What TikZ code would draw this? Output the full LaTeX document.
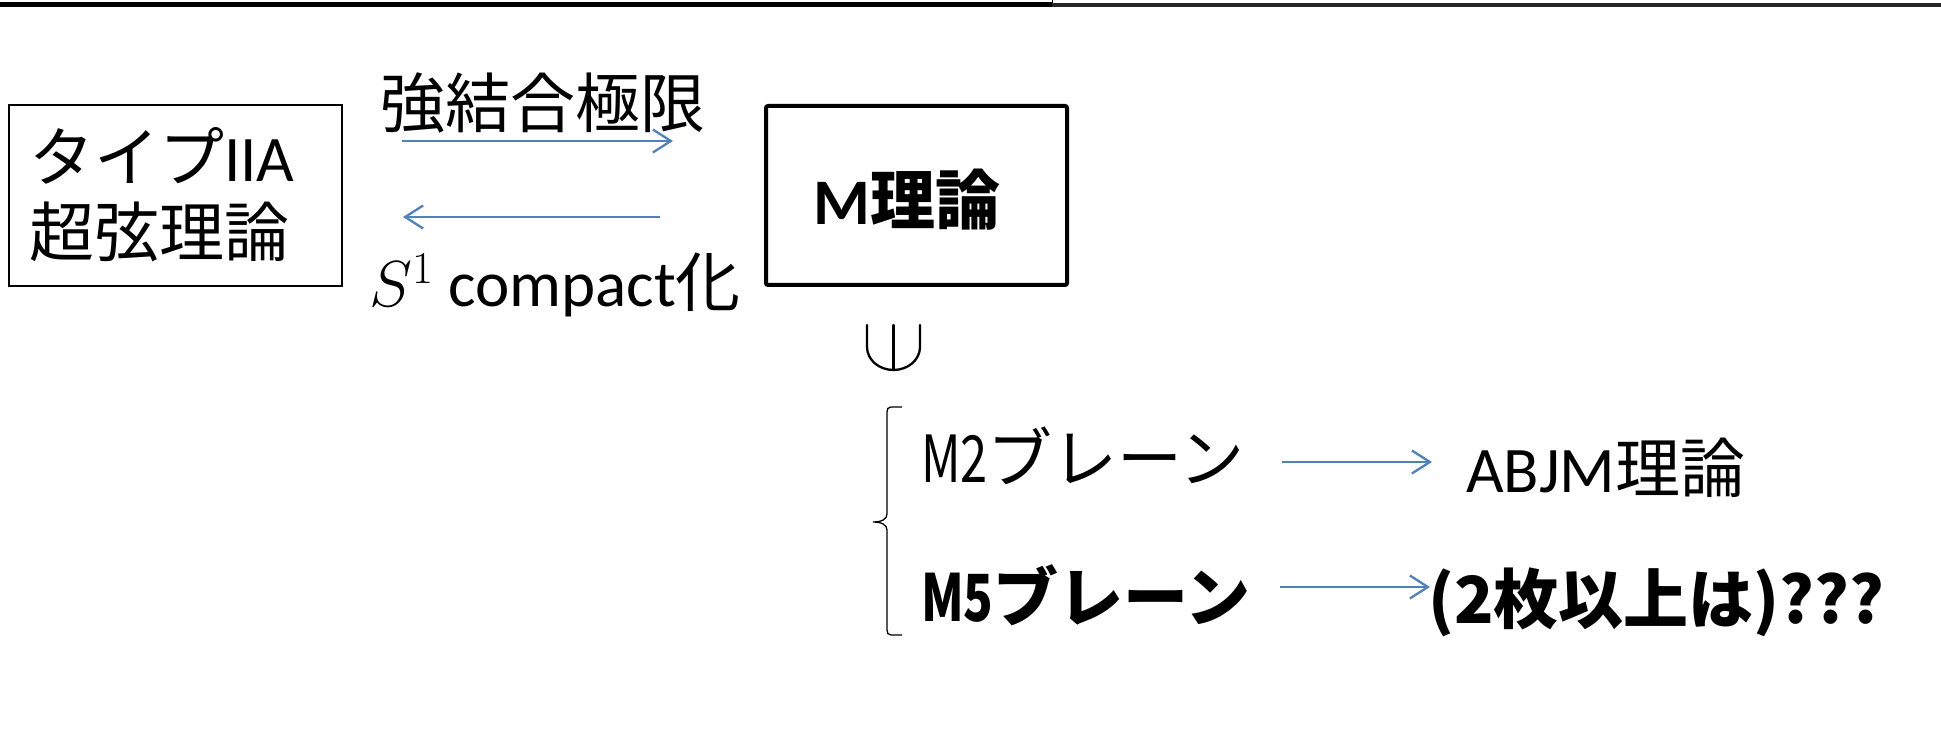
\RequirePackage{fix-cm}
\documentclass[tikz,border=0pt]{standalone}
\usepackage{graphicx}
\usepackage{fontspec}
\setmainfont{Carlito}
\newfontfamily\cjk{Noto Sans CJK JP}
\usetikzlibrary{arrows.meta}
\newcommand\J[1]{{\cjk #1}}
\newcommand\NM[1]{\scalebox{0.75}[1]{\cjk #1}}
\definecolor{arrowblue}{HTML}{4F81BD}
\tikzset{
  lbl/.style={inner sep=0pt, anchor=base west, font=\fontsize{65}{76}\selectfont},
  blbl/.style={inner sep=0pt, anchor=base west, font=\fontsize{65}{76}\selectfont\bfseries},
  bluearrow/.style={draw=arrowblue, line width=2.3pt, -{Straight Barb[length=18pt,width=23pt,line width=2.3pt]}},
  thinbox/.style={draw, line width=1.5pt, inner sep=0pt},
  thickbox/.style={draw, line width=4pt, rounded corners=2pt, inner sep=0pt},
  symline/.style={line width=2.3pt, line cap=round},
  bracestyle/.style={line width=1.3pt},
}
\begin{document}
\begin{tikzpicture}[x=1pt,y=-1pt]
\useasboundingbox (0,0) rectangle (1941,751);
% top frame bar
\fill[black] (0,2.5) rectangle (1052,7.5);
\fill[black!85] (1052,3) rectangle (1941,7);
\draw[line width=1pt] (1052,0) -- (1052,3);

% left box
\node[thinbox, minimum width=333pt, minimum height=181pt] (iia) at (175.5,195.5) {};
\node[lbl] (iia1) at (29,182) {\J{タイプ}IIA};
\node[lbl] (iia2) at (29,257) {\J{超弦理論}};

% labels of the arrows
\node[lbl] (strong) at (380,128) {\J{強結合極限}};
\node[lbl] (compact) at (369,307) {$S^1$ compact\J{化}};

% arrows between boxes
\coordinate (a1s) at (402,141);
\coordinate (a1e) at (673,141);
\coordinate (a2s) at (660,217);
\coordinate (a2e) at (403,217);
\draw[bluearrow] (a1s) -- (a1e);
\draw[bluearrow] (a2s) -- (a2e);

% M theory box
\node[thickbox, minimum width=301pt, minimum height=179pt] (mbox) at (916.5,195.5) {};
\node[blbl] (mtext) at (813.5,225) {M\J{理論}};

% rotated element symbol
\draw[symline] (867,325) -- (867,347) arc[start angle=180,end angle=0,x radius=26.5,y radius=23] -- (920,325);
\draw[symline] (893.5,325) -- (893.5,370);

% brace
\draw[bracestyle] (902,407) -- (891,407) .. controls (888,407) and (887,409) .. (887,412)
  -- (887,514) .. controls (887,519) and (882,522) .. (873,522)
  .. controls (882,522) and (887,525) .. (887,530)
  -- (887,630) .. controls (887,633) and (888,635) .. (891,635) -- (902,635);

% branes
\node[lbl] (m2) at (921,482) {\NM{M2}\J{ブレーン}};
\node[blbl] (m5) at (921,621) {\NM{M5}\J{ブレーン}};

\coordinate (b1s) at (1282,462);
\coordinate (b1e) at (1432,462);
\coordinate (b2s) at (1280,587);
\coordinate (b2e) at (1430,587);
\draw[bluearrow] (b1s) -- (b1e);
\draw[bluearrow] (b2s) -- (b2e);

\node[lbl] (abjm) at (1466,492) {ABJM\J{理論}};
\node[blbl] (m5q) at (1428,623) {\J{(2枚以上は)???}};
\end{tikzpicture}
\end{document}
